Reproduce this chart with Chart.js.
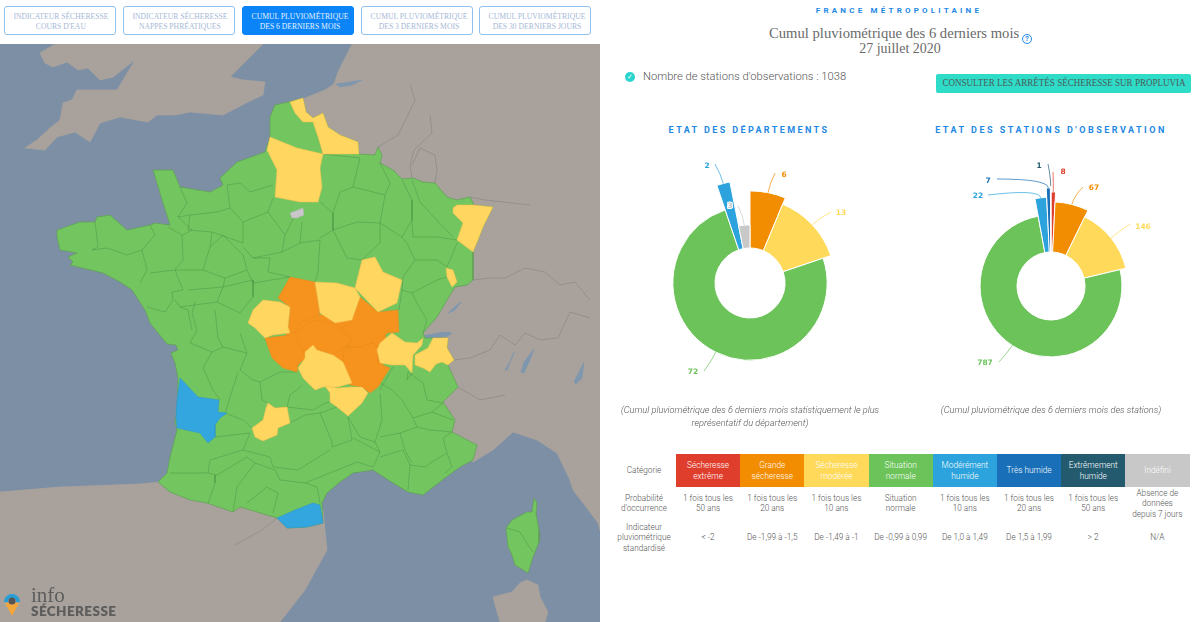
<!DOCTYPE html>
<html lang="fr">
<head>
<meta charset="utf-8">
<title>Info Sécheresse</title>
<script src="https://cdn.jsdelivr.net/npm/chart.js@4/dist/chart.umd.min.js"></script>
<style>
html, body { margin: 0; padding: 0; background: #fff; }
body { width: 1200px; height: 622px; position: relative; overflow: hidden; font-family: Roboto, sans-serif; color: #666; }
canvas { position: absolute; display: block; }
.abs { position: absolute; white-space: nowrap; }
.center { text-align: center; transform: translateX(-50%); }
.btn { position: absolute; top: 6px; height: 29px; width: 112px; box-sizing: border-box; border: 1px solid #8fc0ee; border-radius: 3px; color: #a5b8d6;
  font: 9px/10.5px "Liberation Serif", serif; text-align: center; padding-top: 3.5px; white-space: nowrap; }
.btn span { display: inline-block; transform: scaleX(.85); }
.btn.on { background: #0a84f7; border-color: #0a84f7; color: #e6f2ff; }
.blue-title { font-weight: 700; color: #1e88e5; font-size: 9px; }
.slab { font-family: "Liberation Serif", serif; color: #6a6a6a; }
.cell { position: absolute; text-align: center; font-size: 8.2px; line-height: 10.3px; font-weight: 300; color: #555; transform: translate(-50%, -50%); width: 54px; }
.cell.ligne { white-space: nowrap; width: 64px; }
.head { position: absolute; top: 454px; height: 33px; width: 64.2px; box-sizing: border-box; padding: 0 9px; display: flex; align-items: center; justify-content: center; text-align: center; color: #fff; font-size: 8.3px; line-height: 11px; font-weight: 300; }
.aide { display: inline-block; width: 8px; height: 8px; border: 1px solid #1e88e5; border-radius: 50%; font: 700 7px/8px Roboto; color: #1e88e5; text-align: center; vertical-align: 1px; margin-left: 4px; }
</style>
</head>
<body>
<canvas id="carte" width="600" height="578" style="left:0;top:44px"></canvas>
<canvas id="grafDep" width="260" height="280" style="left:620px;top:143px"></canvas>
<canvas id="grafSta" width="260" height="280" style="left:921px;top:146px"></canvas>
<div id="ui"></div>
<script>
const categories = ["Sécheresse extrême", "Grande sécheresse", "Sécheresse modérée", "Situation normale", "Modérément humide", "Très humide", "Extrêmement humide", "Indéfini"];
const colors = ["#e03e2d", "#f28c00", "#ffd95a", "#6cc35a", "#2ca3dc", "#1a70b8", "#235a6e", "#c8c8c8"];
const probabilites = ["1 fois tous les 50 ans", "1 fois tous les 20 ans", "1 fois tous les 10 ans", "Situation normale", "1 fois tous les 10 ans", "1 fois tous les 20 ans", "1 fois tous les 50 ans", "Absence de données depuis 7 jours"];
const indicateurs = ["< -2", "De -1,99 à -1,5", "De -1,49 à -1", "De -0,99 à 0,99", "De 1,0 à 1,49", "De 1,5 à 1,99", "> 2", "N/A"];
const boutons = ["INDICATEUR SÉCHERESSE<br>COURS D'EAU", "INDICATEUR SÉCHERESSE<br>NAPPES PHRÉATIQUES", "CUMUL PLUVIOMÉTRIQUE<br>DES 6 DERNIERS MOIS", "CUMUL PLUVIOMÉTRIQUE<br>DES 3 DERNIERS MOIS", "CUMUL PLUVIOMÉTRIQUE<br>DES 30 DERNIERS JOURS"];

// nombre de départements / stations par catégorie
const valeursDep = [0, 6, 13, 72, 2, 0, 0, 3];
const valeursSta = [8, 67, 146, 787, 22, 7, 1, 0];
// poids de rayon des parts (0 a 1)
const poidsDep = [0, 0.84, 0.74, 0.62, 1, 0, 0, 0.34];
const poidsSta = [0.91, 0.76, 0.65, 0.56, 0.83, 0.97, 1, 0];

// fond de carte
const merColor = "#7d8fa5", terreColor = "#a9a29c";
const greatBritain = [[55,44],[40,53],[45,63],[53,67],[67,62],[78,70],[88,68],[100,80],[113,77],[135,60],[117,90],[77,90],[72,100],[63,103],[60,120],[50,128],[37,140],[25,148],[45,150],[57,137],[75,132],[90,142],[100,123],[120,117],[148,122],[157,115],[175,115],[190,112],[223,115],[248,102],[263,95],[265,82],[243,80],[230,77],[250,57],[263,44]];
const continentNord = [[305,98],[325,90],[334,84],[338,72],[345,58],[352,44],[600,44],[600,530],[598,523],[583,503],[573,490],[570,480],[557,453],[537,440],[513,432],[493,450],[473,462],[440,440],[350,300],[290,150]];
const espagne = [[0,492],[60,487],[140,484],[160,482],[240,500],[323,510],[325,530],[327,550],[305,590],[280,622],[0,622]];
const sardaigne = [[527,580],[538,585],[540,597],[548,612],[545,622],[500,622],[495,605],[493,597],[512,592],[520,583]];
const lacs = [
  [[423,336],[432,334],[445,332],[452,333],[448,336],[436,338],[427,340]],
  [[505,370],[512,358],[514,352],[510,362],[507,370]],
  [[521,372],[524,362],[534,349],[529,362],[524,373]],
  [[574,382],[580,370],[584,362],[582,378],[576,384]],
  [[448,313],[458,304],[461,302],[455,310]],
  [[336,84],[350,82],[362,80],[352,85],[340,87]]
];
const frontieres = [
  [[378,147],[398,135],[408,115],[415,100],[410,85]],
  [[412,178],[410,165],[414,150],[432,133],[430,115]],
  [[435,183],[437,170],[435,155],[420,148],[412,165]],
  [[470,197],[485,200],[530,205]],
  [[473,280],[490,278],[505,278],[525,268],[545,272],[560,285],[575,282],[590,300]],
  [[454,360],[470,358],[490,350],[500,335],[515,345],[525,333],[540,340],[558,338],[570,312],[590,318]],
  [[458,387],[480,400],[505,395]],
  [[277,518],[262,530],[235,545]]
];

// France : contour et départements hors situation normale
const franceContour = [[288,102],[303,98],[306,112],[313,118],[323,113],[328,127],[340,135],[348,138],[358,142],[359,154],[375,155],[378,147],[382,155],[380,163],[393,170],[402,179],[413,178],[423,182],[435,183],[447,197],[457,200],[470,197],[474,205],[493,207],[483,227],[478,240],[473,252],[473,280],[467,285],[455,287],[447,300],[437,317],[423,333],[425,338],[433,338],[448,338],[447,348],[454,360],[448,365],[458,387],[443,402],[455,420],[452,432],[477,445],[473,460],[460,467],[445,478],[423,495],[408,492],[393,483],[373,470],[353,473],[340,482],[327,493],[322,503],[323,523],[307,527],[287,528],[277,518],[240,507],[233,512],[207,503],[190,500],[170,492],[158,482],[167,473],[170,457],[177,430],[175,422],[177,413],[178,378],[175,363],[171,353],[178,350],[176,345],[167,344],[150,323],[145,310],[132,290],[120,282],[103,273],[78,267],[70,265],[73,262],[68,257],[77,253],[60,250],[57,237],[57,230],[80,222],[95,222],[97,217],[110,215],[127,230],[150,225],[155,223],[170,225],[163,203],[153,170],[173,170],[180,187],[210,192],[223,185],[220,178],[237,162],[265,152],[270,137],[270,117],[275,105]];
const corse = [[534,498],[537,503],[536,513],[539,530],[539,542],[533,557],[528,573],[515,565],[512,555],[508,547],[506,528],[512,520],[527,512],[532,512]];
const massifCentral = [[292,300],[320,315],[355,312],[385,325],[385,360],[370,385],[340,375],[300,360],[285,340],[290,320]];
const jaunes = [
  [[290,102],[303,98],[306,112],[313,118],[323,113],[328,127],[340,135],[348,138],[358,142],[359,154],[323,154],[319,140],[313,122],[303,122],[295,113]],
  [[270,137],[297,148],[323,154],[320,168],[322,187],[318,202],[300,202],[275,197],[277,170],[267,150]],
  [[453,208],[457,205],[474,205],[493,207],[483,227],[478,240],[473,252],[457,240],[463,223],[453,213]],
  [[446,268],[453,270],[457,282],[452,287],[447,277]],
  [[362,260],[375,257],[383,272],[402,280],[397,303],[378,312],[355,288]],
  [[263,300],[280,302],[290,307],[288,327],[290,333],[273,335],[265,338],[255,328],[248,323],[253,310]],
  [[315,282],[337,283],[355,288],[360,297],[352,320],[335,323],[320,313]],
  [[313,345],[317,350],[333,355],[343,362],[352,383],[338,387],[323,387],[315,390],[303,378],[298,368],[305,358],[305,352]],
  [[325,386],[338,388],[350,387],[362,387],[368,393],[362,403],[348,416],[337,407],[330,402],[330,393]],
  [[268,403],[275,408],[287,407],[290,423],[278,428],[277,435],[263,441],[255,437],[252,428],[263,420],[266,408]],
  [[392,333],[405,342],[417,343],[423,338],[422,345],[413,355],[412,373],[405,365],[392,365],[380,363],[377,350],[380,343]],
  [[415,355],[428,348],[433,338],[448,338],[447,348],[454,360],[448,365],[442,362],[436,364],[430,372],[423,368],[415,365]]
];
const oranges = [
  [[290,277],[315,282],[318,300],[320,313],[308,320],[300,322],[295,332],[288,333],[290,307],[278,298]],
  [[295,333],[313,320],[333,323],[343,330],[352,342],[343,348],[333,355],[315,348],[303,350]],
  [[360,297],[378,312],[398,310],[399,332],[387,333],[378,347],[373,343],[360,347],[347,347],[352,338],[340,330],[352,320]],
  [[265,338],[290,335],[303,350],[305,358],[298,365],[297,372],[283,368],[272,358]],
  [[343,348],[360,347],[373,343],[378,347],[378,363],[390,368],[378,387],[370,393],[362,387],[350,385],[343,363]]
];
const bleus = [
  [[180,378],[198,397],[219,400],[218,412],[227,413],[220,418],[215,425],[215,437],[208,443],[200,433],[177,428],[176,417],[177,400]],
  [[277,518],[295,510],[313,503],[320,505],[323,523],[307,527],[287,528]]
];
const gris = [[[290,213],[303,208],[304,215],[297,218],[292,218]]];
const limites = [
  [[95,222],[98,247],[92,250],[107,248],[127,255],[142,250],[147,270],[140,283]],
  [[150,225],[155,235],[142,250]],
  [[168,227],[182,235],[183,260],[175,270],[150,273]],
  [[175,270],[183,290],[172,292],[173,300],[165,312],[147,307]],
  [[180,187],[187,203],[178,217],[192,230],[183,235]],
  [[178,217],[190,215],[217,212],[230,208],[227,185]],
  [[227,185],[240,183],[250,192],[273,185]],
  [[230,208],[243,222],[268,212],[273,198]],
  [[190,215],[188,230],[212,232],[210,247],[203,270],[175,270]],
  [[210,247],[223,235],[243,255],[247,270],[225,278],[203,270]],
  [[212,232],[243,243],[243,222]],
  [[268,212],[285,235],[282,252],[253,258],[243,247]],
  [[285,235],[295,215]],
  [[282,252],[300,243],[302,222]],
  [[253,258],[270,258],[268,272],[290,277],[253,283],[247,270]],
  [[300,243],[320,240],[318,272],[315,282]],
  [[188,290],[223,287],[225,278]],
  [[223,287],[217,302],[180,307],[175,300]],
  [[180,307],[188,310],[192,330]],
  [[223,287],[253,280],[253,297],[240,313],[217,302]],
  [[323,154],[360,158],[353,187],[340,192],[333,213],[320,202]],
  [[380,163],[390,183],[385,195],[353,187]],
  [[333,213],[333,230],[357,222],[380,223],[385,195]],
  [[402,180],[412,200],[412,220],[402,237],[380,223]],
  [[412,180],[420,202],[430,213],[453,237]],
  [[412,220],[413,237],[437,237],[457,240]],
  [[402,237],[408,245],[415,260],[403,277]],
  [[333,230],[347,258],[362,260],[380,243],[380,223]],
  [[320,238],[333,230]],
  [[415,260],[437,260],[447,267],[457,243]],
  [[403,277],[402,290],[412,293],[437,280],[447,277]],
  [[412,293],[418,305],[427,320],[423,333]],
  [[402,290],[399,310]],
  [[195,302],[192,313],[197,330],[190,343],[212,352],[203,368],[213,390],[220,400]],
  [[215,310],[218,338],[223,347],[212,352]],
  [[240,333],[247,353],[240,370],[253,380],[260,382],[280,372],[297,372]],
  [[223,347],[247,353]],
  [[238,372],[225,413],[243,420],[252,428]],
  [[260,382],[262,400],[268,403]],
  [[287,407],[290,395],[303,385]],
  [[287,407],[313,410],[325,403],[330,402]],
  [[290,423],[305,415],[320,413],[332,442]],
  [[337,407],[320,413]],
  [[348,417],[352,440],[332,447],[332,442]],
  [[353,438],[380,452],[373,467]],
  [[270,457],[273,467],[298,470],[330,450]],
  [[215,437],[250,433],[243,450],[210,460],[208,473]],
  [[170,473],[208,473],[217,475],[247,457],[255,463],[237,487],[233,512]],
  [[215,475],[215,483],[208,503]],
  [[243,450],[270,457]],
  [[255,463],[275,470],[280,480],[305,483],[317,487],[320,503]],
  [[247,503],[267,487],[278,493],[273,513]],
  [[305,483],[357,462],[373,467]],
  [[380,393],[382,420],[375,442],[380,452]],
  [[348,417],[360,437],[375,442]],
  [[380,383],[392,390],[402,400],[413,418],[432,412],[443,403]],
  [[408,372],[423,383],[427,400],[443,403]],
  [[380,437],[400,433],[405,450],[412,463]],
  [[380,457],[403,450],[410,465],[408,490]],
  [[410,465],[425,467],[435,460],[447,453],[452,467],[445,473]],
  [[400,433],[417,427],[430,430],[452,432],[443,438],[447,453]],
  [[417,427],[413,418]],
  [[432,412],[453,420]],
  [[393,367],[380,390]],
  [[412,373],[407,380],[408,372]],
  [[507,528],[520,532],[528,545],[533,552]]
];

function poly(points, fill, stroke, width) {
  return {
    data: points.concat([points[0]]).map(p => ({x: p[0], y: p[1]})),
    showLine: true, fill: 'shape', backgroundColor: fill,
    borderColor: stroke || fill, borderWidth: width === undefined ? 0.7 : width,
    pointRadius: 0, tension: 0
  };
}
function trait(points, color, width) {
  return {
    data: points.map(p => ({x: p[0], y: p[1]})),
    showLine: true, fill: false, borderColor: color, borderWidth: width,
    pointRadius: 0, tension: 0
  };
}

const couches = [poly(greatBritain, terreColor), poly(continentNord, terreColor), poly(espagne, terreColor), poly(sardaigne, terreColor)]
  .concat(frontieres.map(f => trait(f, "#8d8a88", 0.8)))
  .concat(lacs.map(l => poly(l, "#7f97ae")))
  .concat([poly(franceContour, "#73c560", "#5f9f55", 0.7), poly(corse, "#73c560", "#5f9f55", 0.7)])
  .concat(limites.map(l => trait(l, "rgba(70,140,65,.7)", 0.6)))
  .concat([poly(massifCentral, "#f6931e")])
  .concat(oranges.map(p => poly(p, "#f6931e", "#e58a1c", 0.5)))
  .concat(jaunes.map(p => poly(p, "#ffd65f", "#f0c050", 0.5)))
  .concat(bleus.map(p => poly(p, "#33a5df", "#2f96ca", 0.5)))
  .concat(gris.map(p => poly(p, "#c9c6cc", "#b5b5b5", 0.5)));

new Chart(document.getElementById('carte'), {
  type: 'scatter',
  data: {datasets: couches.reverse()},
  options: {
    responsive: false, animation: false, events: [],
    layout: {padding: 0},
    plugins: {legend: {display: false}, tooltip: {enabled: false},
      filler: {drawTime: 'beforeDatasetDraw'}},
    scales: {
      x: {display: false, min: 0, max: 600},
      y: {display: false, min: 44, max: 622, reverse: true}
    }
  },
  plugins: [{
    id: 'mer',
    beforeDraw(chart) {
      chart.ctx.fillStyle = merColor;
      chart.ctx.fillRect(0, 0, chart.width, chart.height);
    }
  }]
});

// camembert a rayon variable
class VariablePieController extends Chart.DoughnutController {
  updateElement(arc, index, properties, mode) {
    const cfg = this.chart.options.plugins.variablePie;
    const z = this.getDataset().weights[index] || 0;
    properties.innerRadius = cfg.inner;
    properties.outerRadius = cfg.inner + (cfg.outer - cfg.inner) * z;
    super.updateElement(arc, index, properties, mode);
  }
}
VariablePieController.id = 'variablePie';
VariablePieController.defaults = Chart.DoughnutController.defaults;
VariablePieController.overrides = Chart.DoughnutController.overrides;
Chart.register(VariablePieController);

const etiquettes = {
  id: 'etiquettes',
  afterDatasetsDraw(chart, args, opts) {
    const ctx = chart.ctx, meta = chart.getDatasetMeta(0), ds = chart.data.datasets[0];
    ctx.save();
    ctx.font = 'bold 7.5px "DejaVu Sans"';
    ctx.textAlign = 'center';
    ctx.textBaseline = 'middle';
    meta.data.forEach((arc, i) => {
      const pos = opts.places[i];
      if (!ds.data[i] || !pos) return;
      const mid = (arc.startAngle + arc.endAngle) / 2;
      const ex = arc.x + Math.cos(mid) * arc.outerRadius, ey = arc.y + Math.sin(mid) * arc.outerRadius;
      const cx = ex + Math.cos(mid) * 9, cy = ey + Math.sin(mid) * 9;
      ctx.strokeStyle = colors[i];
      ctx.lineWidth = 0.7;
      ctx.beginPath();
      ctx.moveTo(pos[2], pos[3]);
      ctx.quadraticCurveTo(cx, cy, ex, ey);
      ctx.stroke();
      ctx.lineWidth = 2;
      ctx.strokeStyle = '#fff';
      ctx.strokeText(String(ds.data[i]), pos[0], pos[1]);
      ctx.fillStyle = colors[i];
      ctx.fillText(String(ds.data[i]), pos[0], pos[1]);
    });
    ctx.restore();
  }
};

function camembert(id, valeurs, poids, inner, outer, places) {
  new Chart(document.getElementById(id), {
    type: 'variablePie',
    data: {
      labels: categories,
      datasets: [{data: valeurs, weights: poids, backgroundColor: colors, borderColor: '#fff', borderWidth: 1}]
    },
    options: {
      responsive: false, animation: false, events: [],
      plugins: {legend: {display: false}, tooltip: {enabled: false},
        variablePie: {inner: inner, outer: outer},
        etiquettes: {places: places}}
    },
    plugins: [etiquettes]
  });
}

// [texte x, texte y, depart du trait x, y] dans le repere du canvas
camembert('grafDep', valeursDep, poidsDep, 35, 103, [
  null, [164, 32, 155, 30], [221, 70, 211, 69], [73, 229, 84, 228],
  [87, 23, 95, 21], null, null, [110, 63, 118, 63]
]);
camembert('grafSta', valeursSta, poidsSta, 34, 100, [
  [142, 26, 132, 26], [173, 42, 162, 41], [222, 81, 209, 78], [64, 217, 78, 216],
  [57, 50, 67, 49], [67, 35, 76, 33], [118, 20, 127, 18], null
]);

// interface
const ui = document.getElementById('ui');
function add(cls, html, style) {
  const d = document.createElement('div');
  d.className = cls;
  d.innerHTML = html;
  d.style.cssText = style;
  ui.appendChild(d);
  return d;
}
const boutonX = [4, 123, 242, 361, 479];
boutons.forEach((b, i) => add('btn' + (i === 2 ? ' on' : ''), `<span>${b}</span>`, `left:${boutonX[i]}px`));

add('abs center blue-title', 'FRANCE MÉTROPOLITAINE', 'left:899px;top:6px;letter-spacing:3.2px;font-size:8px');
add('abs slab', 'Cumul pluviométrique des 6 derniers mois', 'left:769px;top:24px;font-size:15.5px;transform:scaleX(.945);transform-origin:0 0');
add('abs', '<span class="aide">?</span>', 'left:1018px;top:27px');
add('abs slab center', '<span style="display:inline-block;transform:scaleX(.9)">27 juillet 2020</span>', 'left:900px;top:39px;font-size:15.5px');
add('abs', '&#10003;', 'left:625px;top:72px;width:10px;height:10px;border-radius:50%;background:#2bd5cf;color:#fff;font-size:7px;line-height:10px;text-align:center');
add('abs', "Nombre de stations d'observations : 1038", 'left:643px;top:70px;font-size:11.2px;font-weight:300;color:#555');
add('abs', '<span style="display:inline-block;transform:scaleX(.95)">CONSULTER LES ARRÊTÉS SÉCHERESSE SUR PROPLUVIA</span>', 'left:936px;top:74px;width:255px;height:19px;background:#2fdcc8;border-radius:2px;text-align:center;font:9.5px/19px "Liberation Serif",serif;color:#4a5a5a');
add('abs center blue-title', 'ETAT DES DÉPARTEMENTS', 'left:749px;top:125px;letter-spacing:2.4px');
add('abs center blue-title', "ETAT DES STATIONS D'OBSERVATION", 'left:1051px;top:125px;letter-spacing:2.5px');
add('abs center', '(Cumul pluviométrique des 6 derniers mois statistiquement le plus<br>représentatif du département)', 'left:750px;top:403px;font-size:9.2px;font-style:italic;font-weight:300;line-height:13px;text-align:center;color:#555');
add('abs center', '(Cumul pluviométrique des 6 derniers mois des stations)', 'left:1051px;top:403px;font-size:9.2px;font-style:italic;font-weight:300;line-height:13px;color:#555');

add('cell ligne', 'Catégorie', 'left:644px;top:470px');
add('cell ligne', 'Probabilité<br>d\'occurrence', 'left:644px;top:503px');
add('cell ligne', 'Indicateur<br>pluviométrique<br>standardisé', 'left:644px;top:537px');
categories.forEach((c, i) => {
  const x = 676 + i * 64.2;
  add('head', c, `left:${x}px;background:${colors[i]}`);
  add('cell', probabilites[i], `left:${x + 32}px;top:503px`);
  add('cell ligne', indicateurs[i], `left:${x + 32}px;top:537px`);
});

// logo
add('abs', '<svg width="22" height="26" viewBox="0 0 22 26"><path d="M3 11a8 8 0 0 1 16 0h-4a4 4 0 0 0-8 0z" fill="#2a9fd6"/><path d="M4 12h14l-7 13z" fill="#f2a63c"/><circle cx="11" cy="10" r="3.5" fill="#555"/></svg>', 'left:1px;top:591px');
add('abs', 'info', 'left:31px;top:583px;font:21px "Liberation Serif",serif;color:#5d5d5d');
add('abs', 'SÉCHERESSE', 'left:31px;top:603px;font:800 13.5px Lato,sans-serif;letter-spacing:.4px;color:#5d5d5d');
</script>
</body>
</html>
